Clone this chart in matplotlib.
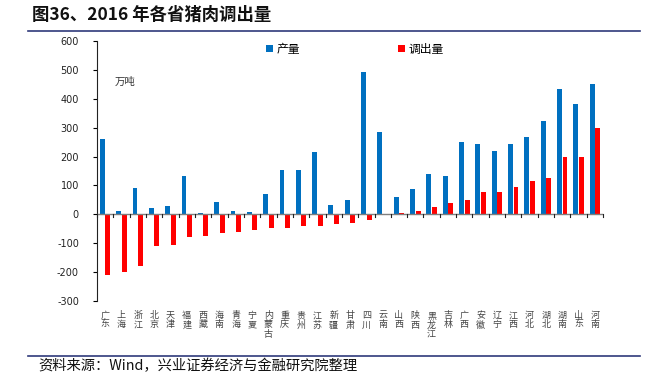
import numpy as np
import matplotlib.pyplot as plt
from matplotlib.lines import Line2D

plt.rcParams['font.family'] = ['Noto Sans CJK SC', 'DejaVu Sans']

# provinces in chart order
provinces = ['广东', '上海', '浙江', '北京', '天津', '福建', '西藏', '海南', '青海', '宁夏',
             '内蒙古', '重庆', '贵州', '江苏', '新疆', '甘肃', '四川', '云南', '山西', '陕西',
             '黑龙江', '吉林', '广西', '安徽', '辽宁', '江西', '河北', '湖北', '湖南', '山东', '河南']
# 产量 (万吨)
output = [262, 13, 92, 21, 29, 134, 3, 43, 10, 7,
          72, 152, 154, 216, 34, 48, 494, 285, 60, 86,
          139, 131, 249, 245, 220, 245, 266, 323, 434, 383, 452]
# 调出量 (万吨)
outflow = [-209, -198, -179, -108, -106, -79, -76, -66, -60, -54,
           -48, -48, -40, -40, -34, -29, -20, -3, 5, 10,
           24, 40, 48, 79, 79, 94, 114, 125, 198, 198, 299]
yticks = list(range(-300, 601, 100))

fig = plt.figure(figsize=(6.48, 3.85), dpi=100)
ax = fig.add_axes([0.1497, 0.2182, 0.7809, 0.6753])

x = np.arange(len(provinces))
w = 0.3
ax.bar(x - w / 2 - 0.02, output, width=w, color='#0070C0', label='产量', zorder=3)
ax.bar(x + w / 2 + 0.02, outflow, width=w, color='#FF0000', label='调出量', zorder=3)

ax.set_xlim(-0.5, len(provinces) - 0.5)
ax.set_ylim(-300, 600)
ax.set_yticks(yticks)
ax.set_yticklabels([str(v) for v in yticks], fontsize=7, color='#222222',
                   family=['DejaVu Sans'])
ax.tick_params(axis='y', direction='out', length=3, width=0.8, pad=10)

# category axis at zero with boundary ticks
ax.axhline(0, color='#7f7f7f', lw=1.0, zorder=4)
for b in np.arange(-0.5, len(provinces), 1):
    ax.plot([b, b], [0, -8], color='#222222', lw=0.8, zorder=4, clip_on=False)
ax.set_xticks([])
for i, p in enumerate(provinces):
    ax.text(i, -335, '\n'.join(p), ha='center', va='top', fontsize=6.5,
            color='#444444', linespacing=1.05)

for s in ['top', 'right', 'bottom']:
    ax.spines[s].set_visible(False)
ax.spines['left'].set_color('#222222')
ax.spines['left'].set_linewidth(0.8)

ax.text(0.035, 0.83, '万吨', transform=ax.transAxes, fontsize=7.5, color='#333333')

ax.legend(loc='upper center', bbox_to_anchor=(0.51, 1.035), ncol=2, frameon=False,
          fontsize=8.5, handlelength=0.6, handleheight=0.6, columnspacing=8.3,
          handletextpad=0.3)

# title and footer
fig.text(32 / 648, 1 - 15 / 385, '图36、2016 年各省猪肉调出量', fontsize=12.5,
         fontweight='bold', va='center', ha='left', color='#111111')
fig.add_artist(Line2D([28 / 648, 640 / 648], [1 - 31 / 385, 1 - 31 / 385],
                      color='#2F3A7A', lw=1.2))
fig.add_artist(Line2D([28 / 648, 640 / 648], [1 - 356 / 385, 1 - 356 / 385],
                      color='#2F3A7A', lw=1.2))
fig.text(38 / 648, 1 - 366 / 385, '资料来源：Wind，兴业证券经济与金融研究院整理',
         fontsize=10.3, va='center', ha='left', color='#111111')

fig.savefig('out.png', dpi=100)
